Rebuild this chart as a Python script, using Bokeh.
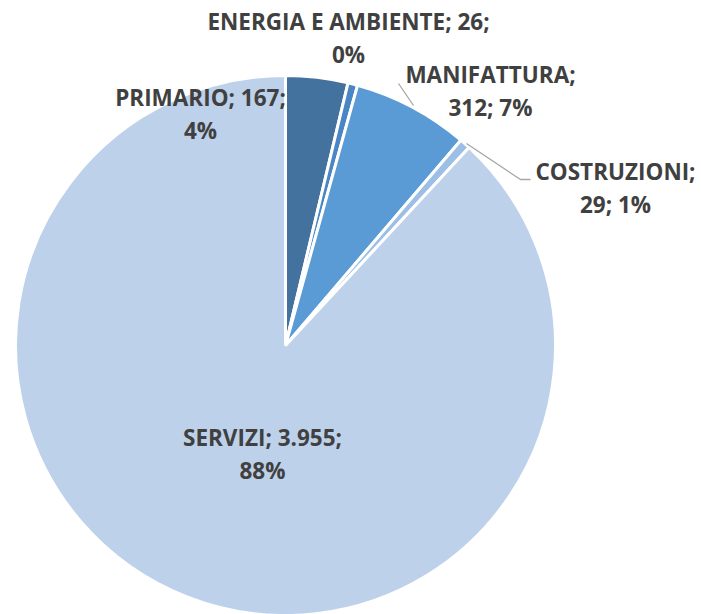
import numpy as np
from bokeh.plotting import figure
from bokeh.models import Range1d, ColumnDataSource
from bokeh.core.properties import value
from bokeh.embed import file_html
from bokeh.resources import INLINE

# ---- data ----
categories = ["PRIMARIO", "ENERGIA E AMBIENTE", "MANIFATTURA", "COSTRUZIONI", "SERVIZI"]
values = [167, 26, 312, 29, 3955]
percent_labels = ["4%", "0%", "7%", "1%", "88%"]
colors = ["#44729E", "#4A86C4", "#5B9BD5", "#9DBFE5", "#BDD1EA"]

# ---- layout (pixel-like coordinates; y is negative downwards) ----
W, H = 701, 614
cx, cy, r = 285, -345, 270
# label line centers (x, y of first line), value-on-first-line flag
label_pos = [(200, -97), (348, -21), (490, -74), (615, -171), (262, -437)]
value_first_line = [True, True, False, False, True]
line_gap = 33

def fmt_it(v):
    return f"{v:,}".replace(",", ".")

vals = np.array(values, dtype=float)
frac = vals / vals.sum()
ends = np.cumsum(frac)
starts = ends - frac
start_ang = np.pi / 2 - starts * 2 * np.pi
end_ang = np.pi / 2 - ends * 2 * np.pi

p = figure(width=W, height=H, output_backend="svg", toolbar_location=None,
           x_range=Range1d(0, W), y_range=Range1d(-H, 0),
           min_border=0, outline_line_color=None, background_fill_color="white",
           border_fill_color="white")
p.axis.visible = False
p.grid.visible = False

src = ColumnDataSource(dict(start=start_ang, end=end_ang, color=colors))
p.wedge(x=cx, y=cy, radius=r, start_angle="start", end_angle="end",
        direction="clock", fill_color="color", line_color="white",
        line_width=3, source=src)

# leader lines
p.line(x=[398, 413], y=[-83, -105], line_color="#A6A6A6", line_width=1.3)
p.line(x=[466, 520, 530], y=[-143, -179, -179], line_color="#A6A6A6", line_width=1.3)

l1, l2, lx, ly1, ly2 = [], [], [], [], []
for cat, v, pc, (x, y), vf in zip(categories, values, percent_labels, label_pos, value_first_line):
    if vf:
        a, b = f"{cat}; {fmt_it(v)};", pc
    else:
        a, b = f"{cat};", f"{fmt_it(v)}; {pc}"
    l1.append(a); l2.append(b); lx.append(x); ly1.append(y); ly2.append(y - line_gap)

tsrc = ColumnDataSource(dict(x=lx + lx, y=ly1 + ly2, t=l1 + l2))
p.text(x="x", y="y", text="t", source=tsrc, text_font=value("Open Sans"),
       text_font_style="bold", text_font_size="22.5px", text_color="#404040",
       text_align="center", text_baseline="middle")

open("out.html", "w").write(file_html(p, INLINE))
